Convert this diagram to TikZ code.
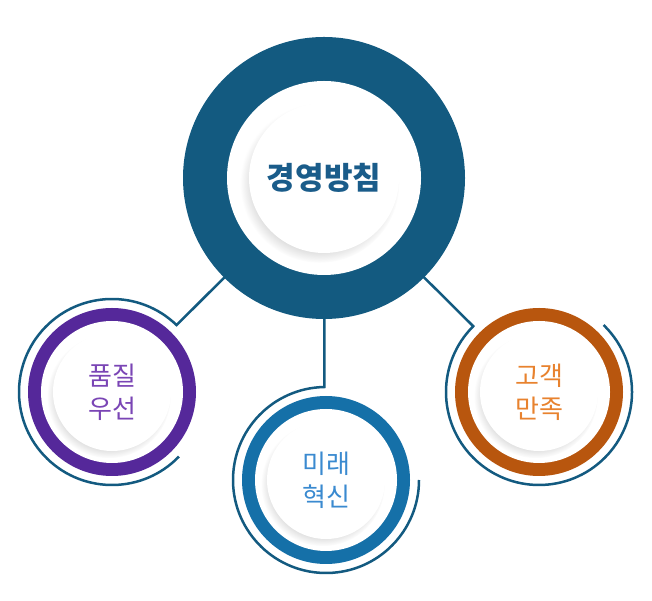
\documentclass[tikz,border=0pt]{standalone}
\usepackage{fontspec}
\newfontfamily\kr{Noto Sans CJK KR}
\usetikzlibrary{shadows,calc}
\definecolor{mainblue}{HTML}{135A80}
\definecolor{maintextblue}{HTML}{1A5C8A}
\definecolor{purplering}{HTML}{55289A}
\definecolor{purpletext}{HTML}{7A45B5}
\definecolor{bluering}{HTML}{1570A8}
\definecolor{bluetext}{HTML}{3A8AD0}
\definecolor{orangering}{HTML}{B8560E}
\definecolor{orangetext}{HTML}{E8822E}
\begin{document}
\begin{tikzpicture}[x=1pt,y=1pt,
  conn/.style={draw=mainblue, line width=2.5pt},
  ring/.style={circle, inner sep=0pt, minimum size=168pt, fill=#1},
  hole/.style={circle, inner sep=0pt, minimum size=142pt, fill=white},
  core/.style={circle, inner sep=0pt, minimum size=118pt, fill=white,
    circular drop shadow={shadow xshift=-3pt, shadow yshift=-4pt, shadow scale=1.05, opacity=0.25},
    font=\kr\fontsize{26}{33}\selectfont, align=center, text=#1},
]
\useasboundingbox (0,0) rectangle (652,601);
% node centres
\coordinate (mc) at (324,423);
\coordinate (lc) at (112,209);
\coordinate (cc) at (326,121);
\coordinate (rc) at (539,209);
% arc start points
\coordinate (la) at ($(lc)+(46:93)$);
\coordinate (ca) at ($(cc)+(91:93)$);
\coordinate (ra) at ($(rc)+(135:93)$);
% connectors with outer arcs
\draw[conn] (mc) -- (la) arc[start angle=46, end angle=316, radius=93];
\draw[conn] (mc) -- (ca) arc[start angle=91, end angle=360, radius=93];
\draw[conn] (mc) -- (ra) arc[start angle=135, end angle=406, radius=93];
% main node
\node[circle, inner sep=0pt, minimum size=282pt, fill=mainblue] (main) at (mc) {};
\node[circle, inner sep=0pt, minimum size=194pt, fill=white] (mainhole) at (mc) {};
\node[circle, inner sep=0pt, minimum size=150pt, fill=white,
  circular drop shadow={shadow xshift=-4pt, shadow yshift=-5pt, shadow scale=1.06, opacity=0.25},
  font=\kr\bfseries\fontsize{31}{36}\selectfont, text=maintextblue] (maintext) at (mc) {경영방침};
% left node
\node[ring=purplering] (left) at (lc) {};
\node[hole] (lefthole) at (lc) {};
\node[core=purpletext] (lefttext) at (lc) {품질\\우선};
% centre node
\node[ring=bluering] (mid) at (cc) {};
\node[hole] (midhole) at (cc) {};
\node[core=bluetext] (midtext) at (cc) {미래\\혁신};
% right node
\node[ring=orangering] (right) at (rc) {};
\node[hole] (righthole) at (rc) {};
\node[core=orangetext] (righttext) at (rc) {고객\\만족};
\end{tikzpicture}
\end{document}
